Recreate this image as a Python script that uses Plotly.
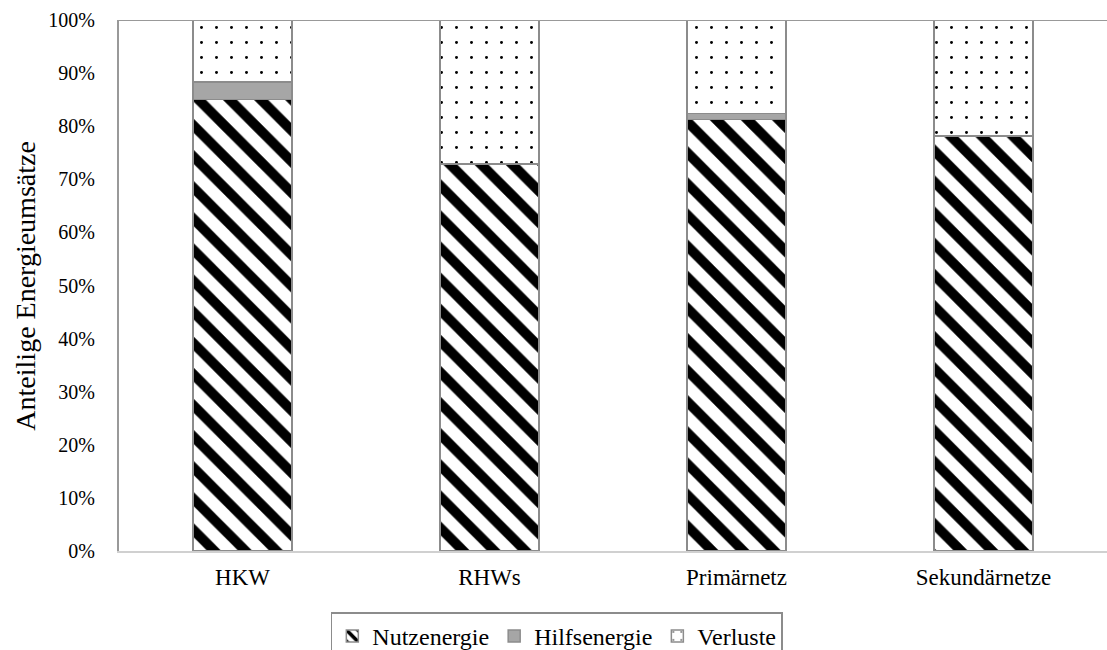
import plotly.graph_objects as go

categories = ["HKW", "RHWs", "Primärnetz", "Sekundärnetze"]
nutzenergie = [85.0, 72.9, 81.3, 78.2]
hilfsenergie = [3.3, 0.0, 1.1, 0.0]
verluste = [11.7, 27.1, 17.6, 21.8]
y_ticks = [0, 10, 20, 30, 40, 50, 60, 70, 80, 90, 100]
y_tick_text = [f"{v}%" for v in y_ticks]

FONT = "Liberation Serif, Times New Roman, serif"
EDGE = "#8c8c8c"

fig = go.Figure()
fig.add_trace(go.Bar(
    name="Nutzenergie", x=categories, y=nutzenergie,
    marker=dict(color="black", line=dict(color=EDGE, width=1.5),
                pattern=dict(shape="\\", fgcolor="black", bgcolor="white",
                             fgopacity=1, size=22, solidity=0.45,
                             fillmode="replace")),
))
fig.add_trace(go.Bar(
    name="Hilfsenergie", x=categories, y=hilfsenergie,
    marker=dict(color="#a6a6a6", line=dict(color=EDGE, width=1.5)),
))
fig.add_trace(go.Bar(
    name="Verluste", x=categories, y=verluste,
    marker=dict(color="black", line=dict(color=EDGE, width=1.5),
                pattern=dict(shape=".", fgcolor="black", bgcolor="white",
                             fgopacity=1, size=15, solidity=0.03,
                             fillmode="replace")),
))

fig.update_layout(
    barmode="stack",
    bargap=0.6,
    width=1107, height=650,
    margin=dict(l=119, r=0, t=20, b=99),
    plot_bgcolor="white", paper_bgcolor="white",
    font=dict(family=FONT, size=20, color="black"),
    showlegend=True,
    legend=dict(orientation="h", xref="container", x=0.503, xanchor="center",
                yref="container", y=0.058, yanchor="top",
                bordercolor="#8c8c8c", borderwidth=1.5,
                font=dict(family=FONT, size=24, color="black"),
                itemwidth=30, traceorder="normal", tracegroupgap=0),
)
fig.update_xaxes(showline=True, linecolor="#d0d0d0", linewidth=2, ticks="",
                 ticklabelstandoff=4, showgrid=False,
                 tickfont=dict(family=FONT, size=23, color="black"))
fig.update_yaxes(range=[0, 100], tickvals=y_ticks, ticktext=y_tick_text,
                 showline=True, linecolor="#999999", linewidth=2,
                 showgrid=False, ticks="", ticklabelstandoff=18, zeroline=False,
                 tickfont=dict(family=FONT, size=20, color="black"))
fig.add_shape(type="line", xref="paper", yref="y", x0=0, x1=1, y0=100, y1=100,
              line=dict(color="#999999", width=2), layer="above")
fig.add_annotation(text="Anteilige Energieumsätze", textangle=-90,
                   xref="paper", yref="paper", x=-0.095, y=0.5, xanchor="center",
                   yanchor="middle", showarrow=False,
                   font=dict(family=FONT, size=28, color="black"))

fig.write_html("out.html")
